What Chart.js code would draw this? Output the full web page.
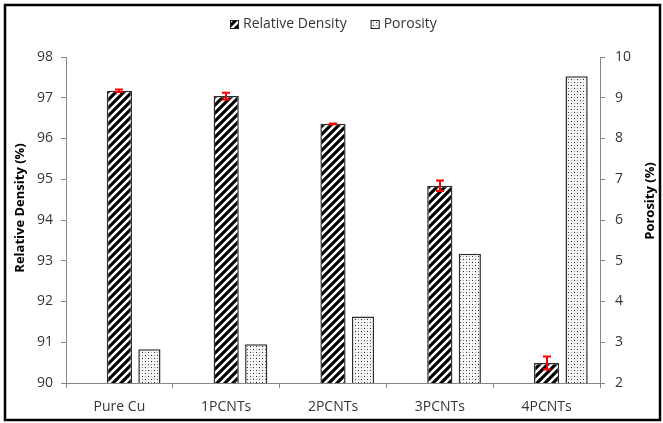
<!DOCTYPE html>
<html>
<head>
<meta charset="utf-8">
<script src="https://cdn.jsdelivr.net/npm/chart.js@4/dist/chart.umd.min.js"></script>
<style>
  html, body { margin: 0; padding: 0; background: #fff; }
  canvas { display: block; }
</style>
</head>
<body>
<canvas id="chart" width="663" height="423"></canvas>
<script>
// Sample groups along the x axis
const categories = ['Pure Cu', '1PCNTs', '2PCNTs', '3PCNTs', '4PCNTs'];
// Relative density (%) with its +/- error
const relativeDensity = [97.17, 97.04, 96.36, 94.84, 90.49];
const relativeDensityError = [0.03, 0.08, 0.01, 0.13, 0.16];
// Porosity (%)
const porosity = [2.83, 2.95, 3.63, 5.17, 9.53];
// Axis ranges and tick step
const densityRange = [90, 98];
const porosityRange = [2, 10];
const tickStep = 1;
// Series names for the legend and axis titles
const seriesNames = ['Relative Density', 'Porosity'];
const axisTitles = ['Relative Density (%)', 'Porosity (%)'];

const FONT = 'Open Sans';
const AXIS_COLOR = '#868686';
const TEXT_COLOR = '#353535';

const canvas = document.getElementById('chart');
const ctx = canvas.getContext('2d');

// Diagonal "/" stripes on white
function makeHatch() {
  const t = document.createElement('canvas');
  t.width = t.height = 8;
  const g = t.getContext('2d');
  g.fillStyle = '#fff';
  g.fillRect(0, 0, 8, 8);
  g.strokeStyle = '#000';
  g.lineWidth = 3.1;
  g.beginPath();
  g.moveTo(-1, 9); g.lineTo(9, -1);
  g.moveTo(-3, 3); g.lineTo(3, -3);
  g.moveTo(5, 11); g.lineTo(11, 5);
  g.stroke();
  return ctx.createPattern(t, 'repeat');
}

// Staggered dots on a pale ground
function makeDots() {
  const t = document.createElement('canvas');
  t.width = t.height = 6;
  const g = t.getContext('2d');
  g.fillStyle = '#f6f6f6';
  g.fillRect(0, 0, 6, 6);
  g.fillStyle = '#222';
  g.fillRect(1, 1, 1, 1);
  g.fillRect(4, 4, 1, 1);
  g.fillStyle = '#9a9a9a';
  g.fillRect(4, 1, 1, 1);
  g.fillRect(1, 4, 1, 1);
  return ctx.createPattern(t, 'repeat');
}

const hatch = makeHatch();
const dots = makeDots();

// White page, thick frame, legend, rotated axis titles
const decorations = {
  id: 'decorations',
  beforeDraw(chart) {
    const c = chart.ctx;
    c.save();
    c.fillStyle = '#fff';
    c.fillRect(0, 0, chart.width, chart.height);
    c.restore();
  },
  afterDraw(chart) {
    const c = chart.ctx;
    c.save();
    // frame
    c.strokeStyle = '#000';
    c.lineWidth = 2.5;
    c.strokeRect(5, 5, 655, 415);

    // legend
    c.font = '14px "' + FONT + '"';
    c.textBaseline = 'middle';
    c.textAlign = 'left';
    const box = 9, gap = 4, spacing = 24;
    const w1 = c.measureText(seriesNames[0]).width;
    const w2 = c.measureText(seriesNames[1]).width;
    const total = box + gap + w1 + spacing + box + gap + w2;
    const cx = (chart.chartArea.left + chart.chartArea.right) / 2;
    let x = Math.round(cx - total / 2);
    const y = 24.5;
    const fills = [hatch, dots];
    [w1, w2].forEach((w, i) => {
      c.fillStyle = fills[i];
      c.fillRect(x, y - box / 2, box, box);
      c.strokeStyle = '#222';
      c.lineWidth = 1;
      c.strokeRect(x + 0.5, y - box / 2 + 0.5, box - 1, box - 1);
      c.fillStyle = TEXT_COLOR;
      c.fillText(seriesNames[i], x + box + gap, y);
      x += box + gap + w + spacing;
    });

    // axis titles, both reading bottom-to-top
    c.font = 'bold 13px "' + FONT + '"';
    c.fillStyle = '#000';
    c.textAlign = 'center';
    c.textBaseline = 'middle';
    c.save();
    c.translate(20, 208);
    c.rotate(-Math.PI / 2);
    c.fillText(axisTitles[0], 0, 0);
    c.restore();
    c.save();
    c.translate(650, 201);
    c.rotate(-Math.PI / 2);
    c.fillText(axisTitles[1], 0, 0);
    c.restore();
    c.restore();
  }
};

// Red error bars on the relative density bars
const errorBars = {
  id: 'errorBars',
  afterDatasetsDraw(chart) {
    const meta = chart.getDatasetMeta(1);
    const yScale = chart.scales.y;
    const c = chart.ctx;
    c.save();
    c.strokeStyle = '#ff0000';
    c.lineWidth = 2;
    const cap = 4;
    meta.data.forEach((bar, i) => {
      const v = relativeDensity[i], e = relativeDensityError[i];
      const top = yScale.getPixelForValue(v + e);
      const bottom = yScale.getPixelForValue(v - e);
      const bx = Math.round(bar.x);
      c.beginPath();
      c.moveTo(bx, top); c.lineTo(bx, bottom);
      c.moveTo(bx - cap, top); c.lineTo(bx + cap, top);
      c.moveTo(bx - cap, bottom); c.lineTo(bx + cap, bottom);
      c.stroke();
    });
    c.restore();
  }
};

const tickFont = { family: FONT, size: 14 };
const sideGrid = { display: true, drawOnChartArea: false, drawTicks: true, tickLength: 5, color: AXIS_COLOR, lineWidth: 1 };

new Chart(ctx, {
  type: 'bar',
  data: {
    labels: categories,
    datasets: [
      {
        // empty leading slot so each pair sits right of the category centre
        label: '',
        data: [null, null, null, null, null],
        yAxisID: 'y',
        backgroundColor: 'rgba(0,0,0,0)'
      },
      {
        label: seriesNames[0],
        data: relativeDensity,
        yAxisID: 'y',
        backgroundColor: hatch,
        borderColor: '#2e2e2e',
        borderWidth: 1.5,
        borderSkipped: false,
        barPercentage: 0.84
      },
      {
        label: seriesNames[1],
        data: porosity,
        yAxisID: 'y1',
        backgroundColor: dots,
        borderColor: '#2e2e2e',
        borderWidth: 1.5,
        borderSkipped: false,
        barPercentage: 0.74
      }
    ]
  },
  options: {
    responsive: false,
    animation: false,
    devicePixelRatio: 1,
    categoryPercentage: 0.843,
    layout: { padding: { top: 57, left: 0, right: 0, bottom: 0 } },
    plugins: {
      legend: { display: false },
      tooltip: { enabled: false }
    },
    scales: {
      x: {
        offset: true,
        grid: { ...sideGrid, offset: true },
        border: { display: true, color: AXIS_COLOR, width: 1 },
        ticks: { color: TEXT_COLOR, font: tickFont, padding: 11, maxRotation: 0 },
        afterFit(s) { s.height = 40; }
      },
      y: {
        position: 'left',
        min: densityRange[0],
        max: densityRange[1],
        grid: sideGrid,
        border: { display: true, color: AXIS_COLOR, width: 1 },
        ticks: { stepSize: tickStep, color: TEXT_COLOR, font: tickFont, padding: 8 },
        afterFit(s) { s.width = 66; }
      },
      y1: {
        position: 'right',
        min: porosityRange[0],
        max: porosityRange[1],
        grid: sideGrid,
        border: { display: true, color: AXIS_COLOR, width: 1 },
        ticks: { stepSize: tickStep, color: TEXT_COLOR, font: tickFont, padding: 10 },
        afterFit(s) { s.width = 63; }
      }
    }
  },
  plugins: [decorations, errorBars]
});
</script>
</body>
</html>
